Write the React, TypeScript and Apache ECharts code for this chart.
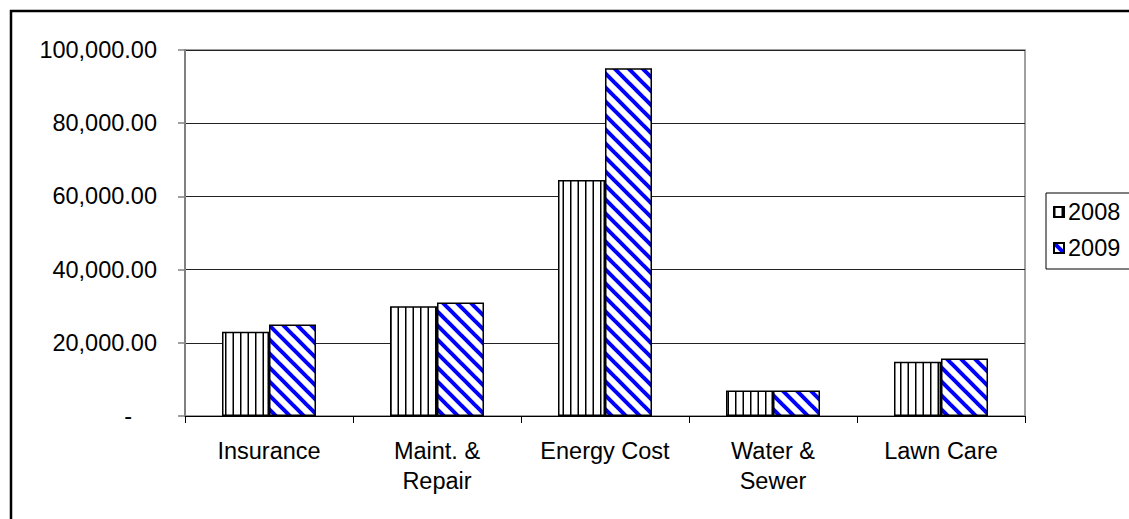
import React, { useEffect, useRef } from "react";
import * as echarts from "echarts";

const categories = ["Insurance", "Maint. &\nRepair", "Energy Cost", "Water &\nSewer", "Lawn Care"];
const seriesNames = ["2008", "2009"];
const values2008 = [23000, 30000, 64500, 7000, 14800];
const values2009 = [25000, 31000, 95000, 7000, 15700];
const yTicks = [0, 20000, 40000, 60000, 80000, 100000];

const FONT = "'Liberation Sans', Arial, sans-serif";
const FS = 23.5;

function makeVertical(): HTMLCanvasElement {
  const c = document.createElement("canvas");
  c.width = 15;
  c.height = 4;
  const ctx = c.getContext("2d")!;
  ctx.fillStyle = "#ffffff";
  ctx.fillRect(0, 0, 15, 4);
  ctx.fillStyle = "#000000";
  ctx.fillRect(0, 0, 1.5, 4);
  ctx.fillRect(7.5, 0, 1.5, 4);
  return c;
}

function makeDiagonal(): HTMLCanvasElement {
  const s = 14;
  const c = document.createElement("canvas");
  c.width = s;
  c.height = s;
  const ctx = c.getContext("2d")!;
  ctx.fillStyle = "#ffffff";
  ctx.fillRect(0, 0, s, s);
  ctx.strokeStyle = "#0000ff";
  ctx.lineWidth = 4;
  for (const dx of [-s, 0, s]) {
    ctx.beginPath();
    ctx.moveTo(dx - 2, -2);
    ctx.lineTo(dx + s + 2, s + 2);
    ctx.stroke();
  }
  return c;
}

export default function App() {
  const ref = useRef<HTMLDivElement>(null);
  useEffect(() => {
    if (!ref.current) return;
    const chart = echarts.init(ref.current, undefined, { renderer: "svg" });
    const pat2008 = { image: makeVertical(), repeat: "repeat" };
    const pat2009 = { image: makeDiagonal(), repeat: "repeat" };
    chart.setOption({
      animation: false,
      backgroundColor: "#ffffff",
      textStyle: { fontFamily: FONT },
      grid: {
        left: 185,
        top: 50,
        right: 104,
        bottom: 103,
        show: true,
        borderColor: "#808080",
        borderWidth: 1.5,
      },
      legend: {
        orient: "vertical",
        left: 1046,
        top: 193,
        padding: [6, 30, 8, 7],
        itemGap: 10,
        itemWidth: 10,
        itemHeight: 10,
        icon: "rect",
        borderColor: "#000000",
        borderWidth: 1,
        backgroundColor: "#ffffff",
        borderRadius: 0,
        data: seriesNames,
        textStyle: { fontSize: FS, color: "#000", fontFamily: FONT, lineHeight: 26, padding: [0, 0, 0, -1] },
      },
      xAxis: {
        type: "category",
        data: categories,
        axisLine: { lineStyle: { color: "#000", width: 1 } },
        axisTick: { show: true, length: 7, interval: 0, lineStyle: { color: "#000" } },
        axisLabel: {
          interval: 0,
          hideOverlap: false,
          fontSize: FS,
          color: "#000",
          lineHeight: 30,
          margin: 20,
          fontFamily: FONT,
        },
        splitLine: { show: false },
      },
      yAxis: {
        type: "value",
        min: 0,
        max: 100000,
        interval: 20000,
        axisLine: { show: true, lineStyle: { color: "#808080", width: 2 } },
        axisTick: { show: true, length: 7, lineStyle: { color: "#808080", width: 1.5 } },
        axisLabel: {
          fontSize: FS,
          color: "#000",
          margin: 28,
          fontFamily: FONT,
          formatter: (v: number) =>
            v === 0
              ? "{d|-}"
              : yTicks.includes(v)
              ? v.toLocaleString("en-US", { minimumFractionDigits: 2, maximumFractionDigits: 2 })
              : "",
          rich: { d: { fontSize: FS, color: "#000", padding: [0, 25, 0, 0], fontFamily: FONT } },
        },
        splitLine: { show: true, lineStyle: { color: "#222", width: 1 } },
      },
      series: [
        {
          name: seriesNames[0],
          type: "bar",
          data: values2008,
          barWidth: 47,
          barGap: "0%",
          itemStyle: { color: pat2008, borderColor: "#000", borderWidth: 1.5 },
        },
        {
          name: seriesNames[1],
          type: "bar",
          data: values2009,
          barWidth: 47,
          barGap: "0%",
          itemStyle: { color: pat2009, borderColor: "#000", borderWidth: 1.5 },
        },
      ],
      graphic: [
        {
          type: "rect",
          shape: { x: 11, y: 11, width: 1400, height: 800 },
          style: { fill: "none", stroke: "#000", lineWidth: 2.5 },
          silent: true,
          z: 100,
        },
      ],
    });
    return () => chart.dispose();
  }, []);
  return (
    <div
      ref={ref}
      style={{ position: "fixed", left: 0, top: 0, width: 1129, height: 519 }}
    />
  );
}
